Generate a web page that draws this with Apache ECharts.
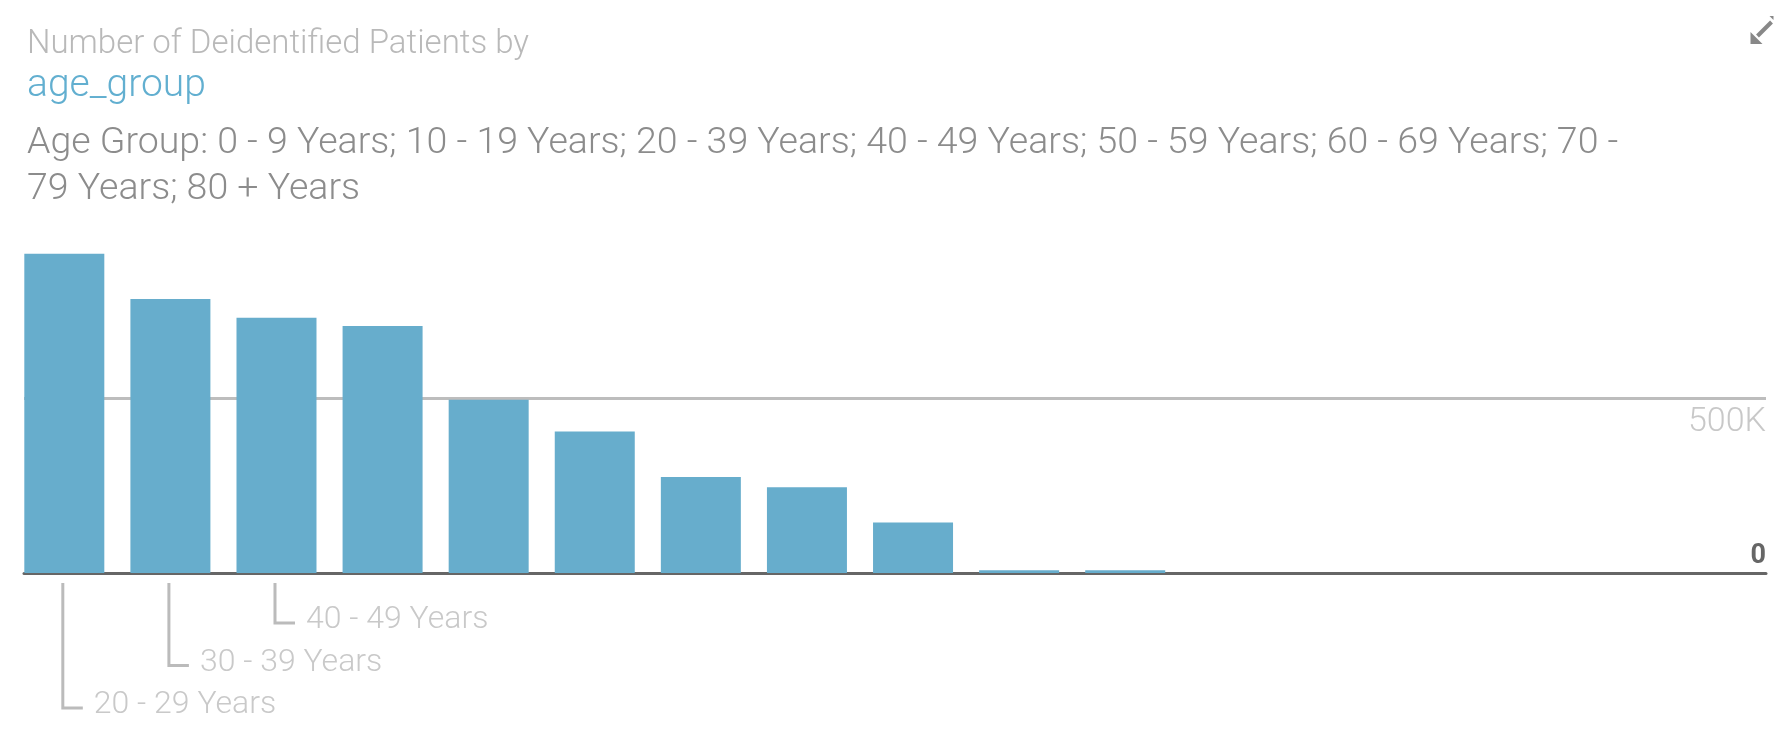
<!DOCTYPE html>
<html>
<head>
<meta charset="utf-8">
<title>Number of Deidentified Patients by age_group</title>
<script src="https://cdn.jsdelivr.net/npm/echarts@6/dist/echarts.min.js"></script>
<style>
  html, body { margin: 0; padding: 0; background: #fff; }
  #chart { width: 1774px; height: 756px; }
</style>
</head>
<body>
<div id="chart"></div>
<script>
// bars, left to right (sorted by count)
const categories = [
  "20 - 29 Years", "30 - 39 Years", "40 - 49 Years", "50 - 59 Years",
  "60 - 69 Years", "10 - 19 Years", "70 - 79 Years", "0 - 9 Years",
  "80 + Years", "Unknown", "Not Reported"
];
const patients = [912000, 783000, 729000, 706000, 495000, 404000, 274000, 245000, 144000, 8000, 8000];
// only the first few category labels fit under the axis
const shownLabels = 3;
const yTickLabels = { 0: "0", 500000: "500K" };

const subtitle = "Age Group: 0 - 9 Years; 10 - 19 Years; 20 - 39 Years; 40 - 49 Years; 50 - 59 Years; 60 - 69 Years; 70 -\n79 Years; 80 + Years";

const FONT = "'Helvetica Neue', Roboto, 'Liberation Sans', sans-serif";
const barColor = "#67adcc";

let chart = echarts.init(document.getElementById("chart"));

let labelData = [];
for (let i = 0; i < shownLabels; i++) {
  labelData.push([i, shownLabels - 1 - i]); // [category index, stagger level]
}

let option = {
  animation: false,
  title: [
    {
      left: 22,
      top: 19,
      text: "{a|Number of Deidentified Patients by}\n{b|age_group}",
      textStyle: {
        rich: {
          a: { fontFamily: FONT, fontWeight: 300, fontSize: 33, color: "#b9b9b9", lineHeight: 42 },
          b: { fontFamily: FONT, fontWeight: 300, fontSize: 39, color: "#62afd0", lineHeight: 40 }
        }
      }
    },
    {
      left: 22,
      top: 116,
      text: subtitle,
      textStyle: {
        fontFamily: FONT,
        fontWeight: 300,
        fontSize: 37.5,
        color: "#8c8c8c",
        lineHeight: 46
      }
    }
  ],
  grid: { left: 24, right: 8, top: 223, bottom: 183 },
  xAxis: {
    type: "value",
    min: -0.38,
    max: 16.04,
    axisLine: { show: true, onZero: false, lineStyle: { color: "#666", width: 3 } },
    axisTick: { show: false },
    axisLabel: { show: false },
    splitLine: { show: false }
  },
  yAxis: {
    type: "value",
    position: "right",
    min: 0,
    max: 1000000,
    interval: 500000,
    axisLine: { show: false },
    axisTick: { show: false },
    splitLine: {
      show: true,
      lineStyle: { color: ["transparent", "#bdbdbd", "transparent"], width: 3 }
    },
    axisLabel: {
      inside: true,
      margin: 0,
      formatter: function (v) {
        if (v === 0) return "{zero|" + yTickLabels[0] + "}";
        if (yTickLabels[v]) return "{k|" + yTickLabels[v] + "}";
        return "";
      },
      rich: {
        zero: { fontFamily: FONT, fontWeight: "bold", fontSize: 27, color: "#666", padding: [0, 0, 34, 0] },
        k: { fontFamily: FONT, fontWeight: 300, fontSize: 34, color: "#c8c8c8", padding: [48, 0, 0, 0] }
      }
    }
  },
  series: [
    {
      type: "bar",
      barWidth: 80,
      itemStyle: { color: barColor },
      data: patients.map(function (v, i) { return [i, v]; })
    },
    {
      type: "custom",
      clip: false,
      silent: true,
      data: labelData,
      renderItem: function (params, api) {
        let idx = api.value(0);
        let level = api.value(1);
        let p = api.coord([idx, 0]);
        let x = p[0] - 1.5;
        let top = p[1] + 10;
        let bottom = p[1] + 50 + level * 42.5;
        return {
          type: "group",
          children: [
            {
              type: "polyline",
              shape: { points: [[x, top], [x, bottom], [x + 20, bottom]] },
              style: { stroke: "#bbbbbb", lineWidth: 3, fill: null }
            },
            {
              type: "text",
              style: {
                text: categories[idx],
                x: x + 31,
                y: bottom - 3,
                verticalAlign: "middle",
                fontFamily: FONT,
                fontWeight: 300,
                fontSize: 32,
                fill: "#c9c9c9"
              }
            }
          ]
        };
      }
    }
  ],
  graphic: [
    {
      type: "group",
      right: 0,
      top: 16,
      children: [
        { type: "line", shape: { x1: 8, y1: 20, x2: 22, y2: 6 }, style: { stroke: "#888", lineWidth: 4 } },
        { type: "polygon", shape: { points: [[1, 28], [1, 16], [13, 28]] }, style: { fill: "#888" } },
        { type: "polygon", shape: { points: [[24, 0], [24, 4], [20, 0]] }, style: { fill: "#888" } }
      ]
    }
  ]
};

chart.setOption(option);
</script>
</body>
</html>
